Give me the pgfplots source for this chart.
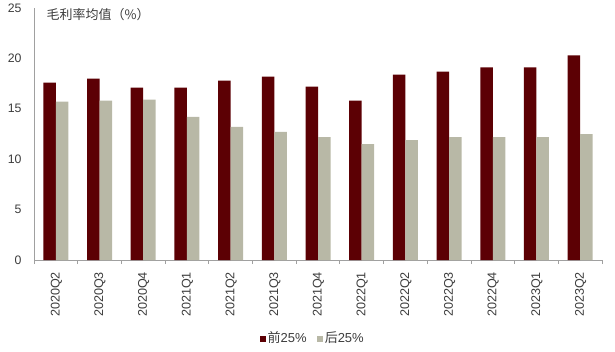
\documentclass[border=0pt]{standalone}
\usepackage{pgfplots}
\pgfplotsset{compat=1.18}
\usepackage{fontspec}
\setmainfont{Liberation Sans}
\newfontfamily\cjk{Noto Sans CJK SC}
\definecolor{darkred}{RGB}{92,0,4}
\definecolor{lightg}{RGB}{184,184,166}
\definecolor{axgray}{RGB}{160,160,160}
\definecolor{txt}{RGB}{60,60,60}
\begin{document}
\begin{tikzpicture}[x=1pt,y=1pt]
\useasboundingbox (0,0) rectangle (615,351);
\begin{axis}[
  at={(34pt,91pt)}, anchor=south west,
  scale only axis, width=568pt, height=252pt,
  ybar=0pt, bar width=12.5pt,
  xmin=-0.5, xmax=12.5, ymin=0, ymax=25,
  xtick={0,...,12},
  xticklabels={2020Q2,2020Q3,2020Q4,2021Q1,2021Q2,2021Q3,2021Q4,2022Q1,2022Q2,2022Q3,2022Q4,2023Q1,2023Q2},
  minor xtick={-0.5,0.5,...,12.5},
  major tick length=0pt, minor tick length=4pt,
  tick align=outside,
  xtick style={axgray, line width=0.8pt},
  ytick={0,5,...,25},
  ytick style={draw=none},
  axis x line*=bottom, axis y line*=left,
  axis line style={axgray, line width=1pt, -},
  tick label style={font=\fontsize{12.3}{14}\selectfont, text=txt},
  xticklabel style={rotate=90, anchor=east, xshift=0pt, yshift=-0.5pt, font=\fontsize{12.6}{14}\selectfont},
  xticklabel shift=8.5pt,
  yticklabel shift=9pt,
  /pgf/number format/assume math mode=true,
  clip=false,
]
\addplot[fill=darkred, draw=none] coordinates {
(0,17.6) (1,18.0) (2,17.1) (3,17.1) (4,17.8) (5,18.2) (6,17.2) (7,15.8) (8,18.4) (9,18.7) (10,19.1) (11,19.1) (12,20.3)};
\addplot[fill=lightg, draw=none] coordinates {
(0,15.7) (1,15.8) (2,15.9) (3,14.2) (4,13.2) (5,12.7) (6,12.2) (7,11.5) (8,11.9) (9,12.2) (10,12.2) (11,12.2) (12,12.5)};
\node[anchor=west, text=txt, font=\cjk\fontsize{13}{15}\selectfont] at (rel axis cs:0.016,0.975) {毛利率均值（\%）};
\node[anchor=center, text=txt, font=\fontsize{13}{15}\selectfont] at (rel axis cs:0.489,-0.306) {{\color{darkred}\rule{6.5pt}{6.5pt}}\hspace{1.5pt}{\cjk 前}25\%\hspace{10pt}{\color{lightg}\rule{6.5pt}{6.5pt}}\hspace{1.5pt}{\cjk 后}25\%};
\end{axis}
\end{tikzpicture}
\end{document}
